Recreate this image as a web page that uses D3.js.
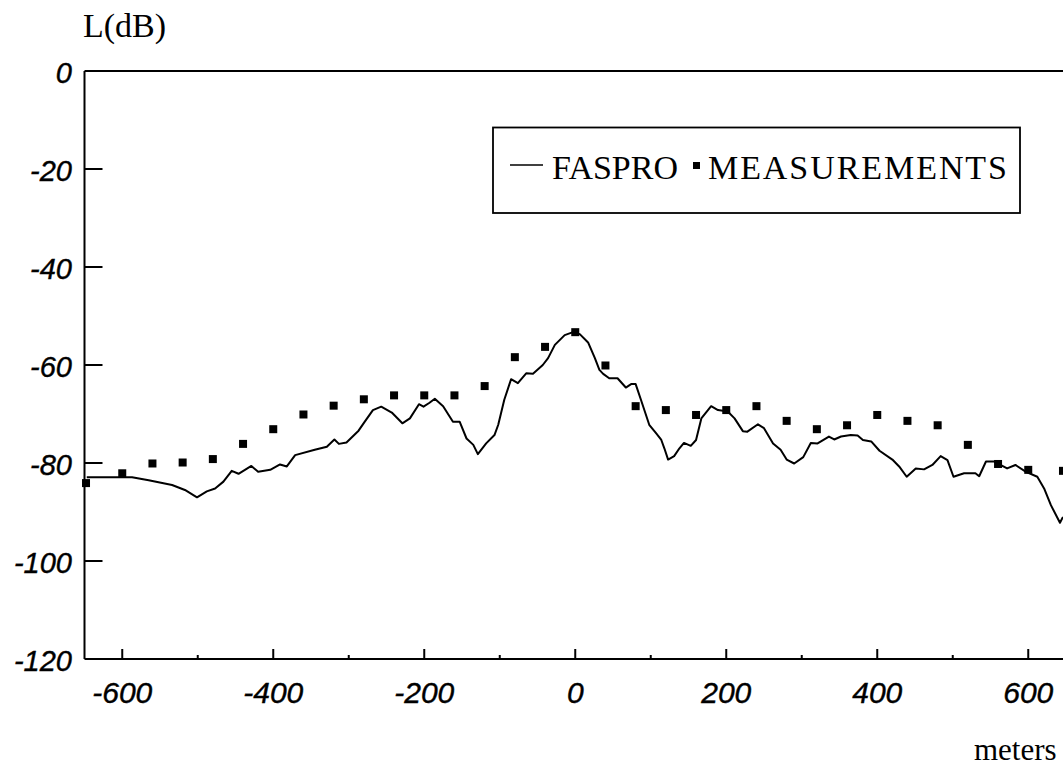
<!DOCTYPE html>
<html><head><meta charset="utf-8">
<script src="https://cdn.jsdelivr.net/npm/d3@7"></script>
<style>html,body{margin:0;padding:0;background:#fff;overflow:hidden}</style>
</head><body>
<svg id="c" width="1063" height="769"></svg>
<script>
const faspro = [
[-647,-82.9],[-587,-82.9],[-565,-83.5],[-534,-84.5],[-517,-85.5],[-501,-87.0],[-488,-85.8],[-477,-85.2],
[-466,-83.8],[-455,-81.6],[-446,-82.2],[-429,-80.6],[-420,-81.8],[-404,-81.4],[-391,-80.3],[-382,-80.7],
[-371,-78.4],[-345,-77.3],[-329,-76.7],[-319,-75.2],[-313,-76.1],[-303,-75.8],[-287,-73.4],[-279,-71.6],
[-268,-69.2],[-257,-68.5],[-243,-69.7],[-229,-71.9],[-219,-70.9],[-207,-68.0],[-201,-68.5],[-193,-67.7],
[-186,-66.9],[-175,-68.4],[-162,-71.6],[-153,-71.6],[-144,-75.0],[-135,-76.3],[-129,-78.2],[-118,-76.0],
[-107,-74.3],[-102,-72.2],[-94,-67.1],[-85,-62.9],[-76,-63.7],[-65,-61.7],[-56,-61.8],[-43,-60.0],
[-36,-58.6],[-27,-55.9],[-14,-53.9],[-3,-53.3],[6,-53.7],[17,-55.4],[26,-58.6],[32,-61.0],[37,-61.8],
[45,-62.7],[56,-62.7],[67,-64.6],[74,-63.9],[80,-63.9],[87,-67.1],[98,-72.2],[107,-73.9],[114,-75.3],
[118,-77.0],[123,-79.3],[131,-78.6],[138,-77.0],[144,-75.9],[153,-76.5],[160,-75.3],[167,-70.9],
[180,-68.4],[189,-69.2],[202,-69.5],[211,-70.9],[222,-73.5],[228,-73.6],[242,-72.1],[250,-72.9],
[262,-76.0],[272,-77.3],[280,-79.3],[290,-80.1],[302,-78.8],[312,-75.9],[321,-76.0],[336,-74.6],
[343,-75.2],[352,-74.6],[365,-74.3],[374,-74.4],[381,-75.3],[392,-75.6],[403,-77.5],[420,-79.3],
[429,-80.7],[439,-82.8],[451,-81.1],[462,-81.3],[473,-80.4],[484,-78.6],[493,-79.4],[501,-82.8],
[515,-82.1],[530,-82.1],[535,-82.7],[544,-79.7],[555,-79.7],[572,-81.1],[583,-80.4],[597,-81.8],
[612,-82.8],[621,-85.2],[630,-88.6],[642,-92.2],[646,-91.0]
];
const measX = [-648,-600,-560,-520,-480,-440,-400,-360,-320,-280,-240,-200,-160,-120,-80,-40,0,
  40,80,120,160,200,240,280,320,360,400,440,480,520,560,600,646];
const measY = [-84.1,-82.1,-80.1,-79.9,-79.2,-76.1,-73.1,-70.1,-68.3,-67.0,-66.2,-66.2,-66.2,-64.3,-58.4,-56.3,-53.3,
  -60.1,-68.4,-69.2,-70.2,-69.2,-68.4,-71.4,-73.1,-72.3,-70.2,-71.4,-72.3,-76.3,-80.2,-81.4,-81.6];
const xTicks = [-600,-400,-200,0,200,400,600];
const xMinor = [-500,-300,-100,100,300,500];
const yTicks = [0,-20,-40,-60,-80,-100,-120];
const legendLabels = ["FASPRO","MEASUREMENTS"];

const svg = d3.select("#c");
const x = d3.scaleLinear().domain([-650,650]).range([84.5,1066]);
const y = d3.scaleLinear().domain([-120,0]).range([659,71]);
const sans = "'Liberation Sans', Arial, sans-serif";
const serif = "'Liberation Serif', 'Times New Roman', serif";

// frame
const g = svg.append("g").attr("stroke","#000").attr("stroke-width",2).attr("fill","none");
g.append("line").attr("x1",x(-650)).attr("x2",x(650)).attr("y1",y(0)).attr("y2",y(0));
g.append("line").attr("x1",x(-650)).attr("x2",x(650)).attr("y1",y(-120)).attr("y2",y(-120));
g.append("line").attr("x1",x(-650)).attr("x2",x(-650)).attr("y1",y(0)).attr("y2",y(-120));

// y ticks
svg.append("g").selectAll("line").data(yTicks.filter(d=>d>-120&&d<0)).join("line")
  .attr("x1",x(-650)).attr("x2",x(-650)+18).attr("y1",d=>y(d)).attr("y2",d=>y(d))
  .attr("stroke","#000").attr("stroke-width",2);
svg.append("g").selectAll("text").data(yTicks).join("text")
  .attr("x",72).attr("y",d=>y(d)+12).attr("text-anchor","end")
  .attr("font-family",sans).attr("font-style","italic").attr("font-size",29)
  .attr("stroke","#000").attr("stroke-width",0.4)
  .text(d=>d);

// x ticks
svg.append("g").selectAll("line").data(xTicks).join("line")
  .attr("x1",d=>x(d)).attr("x2",d=>x(d)).attr("y1",y(-120)).attr("y2",y(-120)-10)
  .attr("stroke","#000").attr("stroke-width",2);
svg.append("g").selectAll("line").data(xMinor).join("line")
  .attr("x1",d=>x(d)).attr("x2",d=>x(d)).attr("y1",y(-120)).attr("y2",y(-120)-4)
  .attr("stroke","#000").attr("stroke-width",2);
svg.append("g").selectAll("text").data(xTicks).join("text")
  .attr("x",d=>x(d)).attr("y",703).attr("text-anchor","middle")
  .attr("font-family",sans).attr("font-style","italic").attr("font-size",30)
  .attr("stroke","#000").attr("stroke-width",0.4)
  .text(d=>d);

// axis titles
svg.append("text").attr("x",83).attr("y",37).attr("font-family",serif).attr("font-size",34).text("L(dB)");
svg.append("text").attr("x",974).attr("y",760).attr("font-family",serif).attr("font-size",31).text("meters");

// line
const line = d3.line().x(d=>x(d[0])).y(d=>y(d[1]));
svg.append("path").datum(faspro).attr("d",line).attr("fill","none")
  .attr("stroke","#000").attr("stroke-width",2).attr("stroke-linejoin","round");

// markers
const ms = 8;
svg.append("g").selectAll("rect").data(measX.map((v,i)=>[v,measY[i]])).join("rect")
  .attr("x",d=>x(d[0])-ms/2).attr("y",d=>y(d[1])-ms/2).attr("width",ms).attr("height",ms)
  .attr("fill","#000");

// legend
const lg = svg.append("g");
lg.append("rect").attr("x",493).attr("y",127.5).attr("width",527).attr("height",85.5)
  .attr("fill","#fff").attr("stroke","#000").attr("stroke-width",1.8);
lg.append("line").attr("x1",510).attr("x2",543).attr("y1",165).attr("y2",165).attr("stroke","#000").attr("stroke-width",1.5);
lg.append("text").attr("x",552).attr("y",178.5).attr("font-family",serif).attr("font-size",34).text(legendLabels[0]);
lg.append("rect").attr("x",693).attr("y",162).attr("width",7).attr("height",7).attr("fill","#000");
lg.append("text").attr("x",708).attr("y",178.5).attr("font-family",serif).attr("font-size",34)
  .attr("textLength",299).attr("lengthAdjust","spacing").text(legendLabels[1]);
</script>
</body></html>
